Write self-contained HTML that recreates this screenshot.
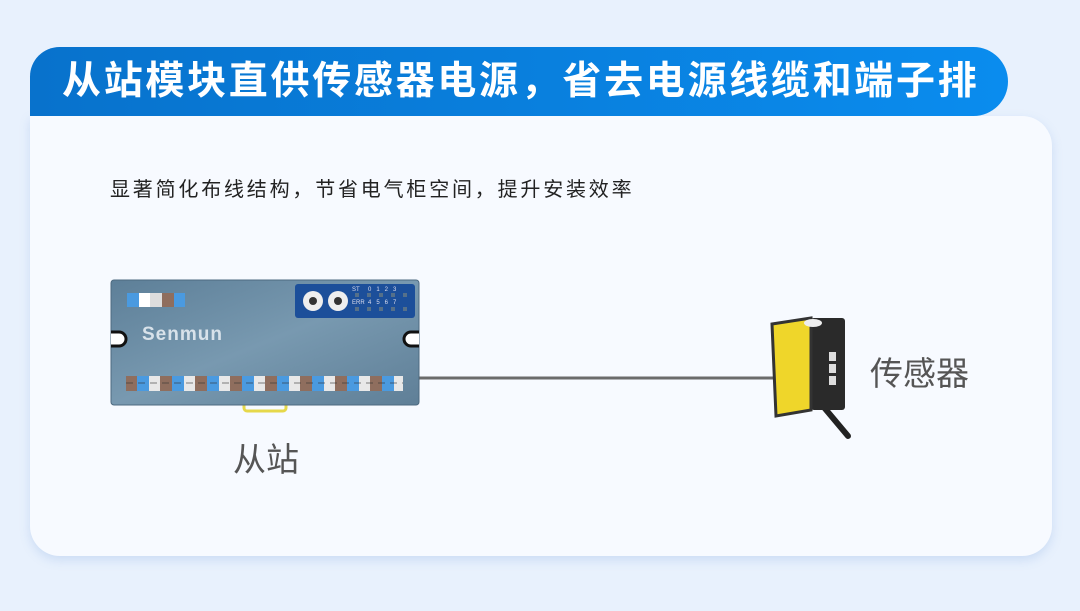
<!DOCTYPE html>
<html><head><meta charset="utf-8"><style>
body{margin:0;width:1080px;height:611px;background:#e8f1fd;position:relative;overflow:hidden;font-family:"Liberation Sans","Noto Sans CJK SC",sans-serif}
.card{position:absolute;left:30px;top:116px;width:1022px;height:440px;background:#f7faff;border-radius:0 30px 30px 30px;box-shadow:0 4px 10px rgba(120,160,220,.25)}
.title{position:absolute;left:30px;top:47px;width:978px;height:69px;border-radius:30px 35px 35px 0;background:linear-gradient(90deg,#0872cc,#0a8cee);color:#fff;font-weight:bold;font-size:39px;line-height:69px;padding-left:32px;box-sizing:border-box;letter-spacing:2.7px;white-space:nowrap}
.sub{position:absolute;left:110px;top:173px;font-size:20px;color:#222;letter-spacing:2.8px;white-space:nowrap}
.lbl{position:absolute;font-size:33px;color:#555;white-space:nowrap}
</style></head><body>
<div class="card"></div>
<div class="title">从站模块直供传感器电源，省去电源线缆和端子排</div>
<div class="sub">显著简化布线结构，节省电气柜空间，提升安装效率</div>
<svg width="1080" height="611" style="position:absolute;left:0;top:0">
<defs><linearGradient id="g" x1="0" x2="1" y1="0" y2="1"><stop offset="0" stop-color="#5d7f98"/><stop offset=".5" stop-color="#7899b0"/><stop offset="1" stop-color="#5f7f97"/></linearGradient></defs>
<line x1="419" y1="378" x2="778" y2="378" stroke="#6b6b6b" stroke-width="3"/>
<rect x="244" y="400" width="42" height="11" rx="3" fill="none" stroke="#e6d84a" stroke-width="3"/>
<rect x="111" y="280" width="308" height="125" rx="3" fill="url(#g)" stroke="#4d6a80"/>
<rect x="295" y="284" width="120" height="34" rx="3" fill="#1c4f9a"/>
<circle cx="313" cy="301" r="10" fill="#eee"/><circle cx="313" cy="301" r="4" fill="#333"/>
<circle cx="338" cy="301" r="10" fill="#eee"/><circle cx="338" cy="301" r="4" fill="#333"/>
<g font-size="6" fill="#dde" font-family="Liberation Sans"><text x="352" y="291">ST</text><text x="352" y="304">ERR</text>
<text x="368" y="291">0 &#160; 1 &#160; 2 &#160; 3</text><text x="368" y="304">4 &#160; 5 &#160; 6 &#160; 7</text></g>
<g fill="#55708a"><rect x="355" y="293" width="4" height="4"/><rect x="367" y="293" width="4" height="4"/><rect x="379" y="293" width="4" height="4"/><rect x="391" y="293" width="4" height="4"/><rect x="403" y="293" width="4" height="4"/>
<rect x="355" y="307" width="4" height="4"/><rect x="367" y="307" width="4" height="4"/><rect x="379" y="307" width="4" height="4"/><rect x="391" y="307" width="4" height="4"/><rect x="403" y="307" width="4" height="4"/></g>
<rect x="127" y="293" width="12" height="14" fill="#4a9ae0"/><rect x="139" y="293" width="11" height="14" fill="#fff"/><rect x="150" y="293" width="12" height="14" fill="#ddd"/><rect x="162" y="293" width="12" height="14" fill="#8f6e5e"/><rect x="174" y="293" width="11" height="14" fill="#4a9ae0"/>
<text x="142" y="340" font-size="19" font-weight="bold" fill="#d8e2ea" font-family="Liberation Sans" letter-spacing="1">Senmun</text>
<path d="M111 332 h8 a7 7 0 0 1 0 14 h-8" fill="#fff" stroke="#111" stroke-width="3"/>
<path d="M419 332 h-8 a7 7 0 0 0 0 14 h8" fill="#fff" stroke="#111" stroke-width="3"/>
<rect x="126" y="376" width="277" height="15" fill="#8f6e5e"/>
<g>
<rect x="137" y="376" width="12" height="15" fill="#4a9ae0"/><rect x="149" y="376" width="11" height="15" fill="#e8e8e8"/>
<rect x="172" y="376" width="12" height="15" fill="#4a9ae0"/><rect x="184" y="376" width="11" height="15" fill="#e8e8e8"/>
<rect x="207" y="376" width="12" height="15" fill="#4a9ae0"/><rect x="219" y="376" width="11" height="15" fill="#e8e8e8"/>
<rect x="242" y="376" width="12" height="15" fill="#4a9ae0"/><rect x="254" y="376" width="11" height="15" fill="#e8e8e8"/>
<rect x="277" y="376" width="12" height="15" fill="#4a9ae0"/><rect x="289" y="376" width="11" height="15" fill="#e8e8e8"/>
<rect x="312" y="376" width="12" height="15" fill="#4a9ae0"/><rect x="324" y="376" width="11" height="15" fill="#e8e8e8"/>
<rect x="347" y="376" width="12" height="15" fill="#4a9ae0"/><rect x="359" y="376" width="11" height="15" fill="#e8e8e8"/>
<rect x="382" y="376" width="12" height="15" fill="#4a9ae0"/><rect x="394" y="376" width="9" height="15" fill="#e8e8e8"/>
</g>
<line x1="126" y1="383" x2="403" y2="383" stroke="#333" stroke-opacity=".4" stroke-width="1.5" stroke-dasharray="7 5"/>
<path d="M822 405 L848 436" stroke="#222" stroke-width="6" stroke-linecap="round"/>
<rect x="811" y="318" width="34" height="92" rx="3" fill="#2a2a2a"/>
<path d="M772 324 L811 318 L811 410 L776 416 Z" fill="#efd62a" stroke="#333" stroke-width="3"/>
<ellipse cx="813" cy="323" rx="9" ry="4" fill="#eee"/>
<g fill="#ddd"><rect x="829" y="352" width="7" height="9"/><rect x="829" y="364" width="7" height="9"/><rect x="829" y="376" width="7" height="9"/></g>
</svg>
<div class="lbl" style="left:233px;top:433px">从站</div>
<div class="lbl" style="left:870px;top:347px">传感器</div>
</body></html>
